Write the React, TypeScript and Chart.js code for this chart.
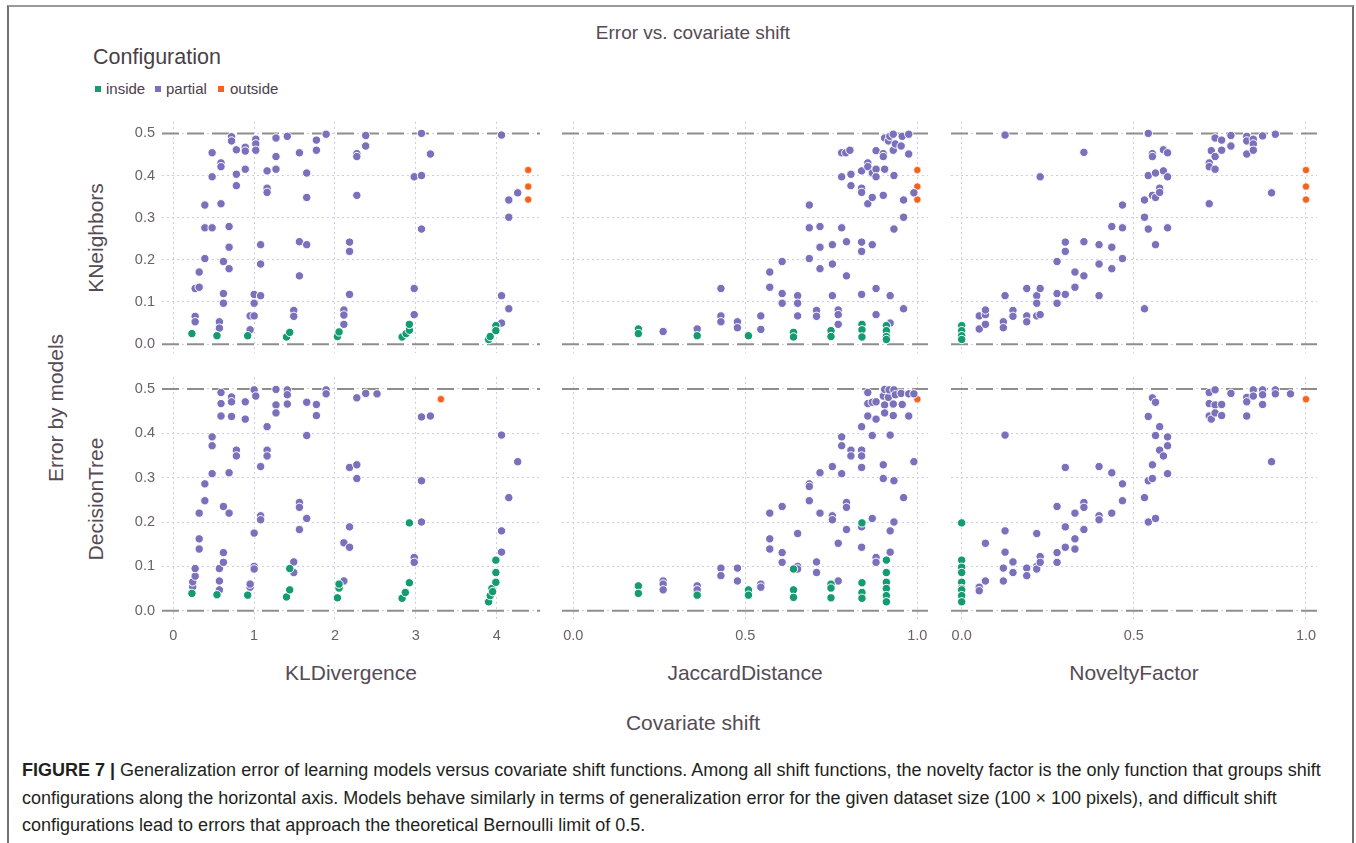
import React, { useEffect, useRef } from "react";
import { Chart, registerables } from "chart.js";

Chart.register(...registerables);

type Pt = [number, number];

// ---------------- data ----------------
const configurations = ["inside", "partial", "outside"];
const models = ["KNeighbors", "DecisionTree"];
const shiftFunctions = ["KLDivergence", "JaccardDistance", "NoveltyFactor"];
const errorTicks = [0, 0.1, 0.2, 0.3, 0.4, 0.5];
const klTicks = [0, 1, 2, 3, 4];
const unitTicks = [0, 0.5, 1];
const referenceErrors = [0, 0.5];

// KNeighbors vs KLDivergence
const knnKlInside: Pt[] = [
  [0.23, 0.025], [0.54, 0.02], [0.92, 0.02], [1.4, 0.017], [1.44, 0.028], [2.03, 0.018], [2.05, 0.029],
  [2.83, 0.017], [2.88, 0.025], [2.92, 0.033], [2.92, 0.047], [3.9, 0.011], [3.92, 0.018], [3.99, 0.044], [3.99, 0.032],
];
const knnKlPartial: Pt[] = [
  [0.27, 0.132], [0.27, 0.066], [0.27, 0.053], [0.32, 0.171], [0.32, 0.135], [0.39, 0.33], [0.39, 0.276], [0.39, 0.203],
  [0.48, 0.454], [0.48, 0.397], [0.48, 0.276], [0.57, 0.053], [0.57, 0.038], [0.59, 0.43], [0.59, 0.421], [0.59, 0.333],
  [0.62, 0.196], [0.62, 0.12], [0.62, 0.097], [0.69, 0.279], [0.69, 0.23], [0.69, 0.179], [0.72, 0.492], [0.72, 0.482],
  [0.78, 0.461], [0.78, 0.403], [0.78, 0.376], [0.89, 0.467], [0.89, 0.458], [0.89, 0.415], [0.95, 0.067], [0.95, 0.034],
  [1.02, 0.486], [1.02, 0.475], [1.02, 0.46], [1.0, 0.118], [1.0, 0.097], [1.0, 0.067], [1.08, 0.236], [1.08, 0.19],
  [1.08, 0.115], [1.16, 0.411], [1.16, 0.37], [1.16, 0.36], [1.27, 0.489], [1.27, 0.445], [1.27, 0.415], [1.41, 0.493],
  [1.49, 0.08], [1.49, 0.066], [1.56, 0.454], [1.56, 0.243], [1.56, 0.162], [1.65, 0.406], [1.65, 0.348], [1.65, 0.236],
  [1.77, 0.484], [1.77, 0.46], [1.89, 0.498], [2.11, 0.081], [2.11, 0.069], [2.11, 0.047], [2.18, 0.242], [2.18, 0.22],
  [2.18, 0.118], [2.27, 0.452], [2.27, 0.445], [2.27, 0.353], [2.38, 0.495], [2.38, 0.47], [2.98, 0.397], [2.98, 0.132],
  [2.98, 0.07], [3.07, 0.5], [3.07, 0.4], [3.07, 0.273], [3.18, 0.451], [4.06, 0.496], [4.06, 0.115], [4.06, 0.05],
  [4.15, 0.342], [4.15, 0.301], [4.15, 0.084], [4.26, 0.359],
];
const knnKlOutside: Pt[] = [[4.39, 0.413], [4.39, 0.374], [4.39, 0.343]];

// KNeighbors vs JaccardDistance
const knnJacInside: Pt[] = [
  [0.189, 0.036], [0.189, 0.025], [0.36, 0.02], [0.509, 0.02], [0.64, 0.028], [0.64, 0.017], [0.749, 0.032], [0.749, 0.018],
  [0.839, 0.047], [0.839, 0.034], [0.839, 0.017], [0.91, 0.044], [0.91, 0.032], [0.91, 0.018], [0.91, 0.011],
];
const knnJacPartial: Pt[] = [
  [0.261, 0.03], [0.36, 0.036], [0.429, 0.132], [0.429, 0.067], [0.429, 0.053], [0.477, 0.053], [0.477, 0.039],
  [0.545, 0.067], [0.545, 0.035], [0.571, 0.171], [0.571, 0.135], [0.607, 0.196], [0.607, 0.12], [0.607, 0.097],
  [0.652, 0.115], [0.652, 0.097], [0.652, 0.067], [0.686, 0.33], [0.686, 0.276], [0.686, 0.203], [0.717, 0.279],
  [0.717, 0.23], [0.717, 0.179], [0.707, 0.08], [0.707, 0.066], [0.753, 0.236], [0.753, 0.19], [0.753, 0.115],
  [0.77, 0.081], [0.77, 0.07], [0.77, 0.047], [0.78, 0.454], [0.792, 0.454], [0.804, 0.46], [0.78, 0.397], [0.78, 0.276],
  [0.794, 0.243], [0.794, 0.162], [0.807, 0.403], [0.807, 0.376], [0.838, 0.411], [0.838, 0.37], [0.838, 0.36],
  [0.838, 0.242], [0.838, 0.22], [0.838, 0.118], [0.856, 0.43], [0.856, 0.421], [0.856, 0.333], [0.869, 0.406],
  [0.869, 0.348], [0.869, 0.236], [0.88, 0.459], [0.88, 0.415], [0.88, 0.397], [0.88, 0.132], [0.88, 0.07],
  [0.901, 0.452], [0.901, 0.445], [0.901, 0.353], [0.905, 0.489], [0.905, 0.415], [0.916, 0.482], [0.92, 0.493],
  [0.93, 0.498], [0.93, 0.46], [0.932, 0.4], [0.932, 0.273], [0.936, 0.475], [0.921, 0.115], [0.921, 0.05],
  [0.956, 0.493], [0.953, 0.47], [0.975, 0.498], [0.975, 0.451], [0.96, 0.342], [0.96, 0.301], [0.96, 0.084], [0.99, 0.359],
];
const knnJacOutside: Pt[] = [[1, 0.413], [1, 0.374], [1, 0.343]];

// KNeighbors vs NoveltyFactor
const knnNovInside: Pt[] = [[0, 0.044], [0, 0.032], [0, 0.02], [0, 0.011]];
const knnNovPartial: Pt[] = [
  [0.051, 0.036], [0.051, 0.067], [0.069, 0.047], [0.069, 0.07], [0.069, 0.081], [0.126, 0.496], [0.126, 0.115],
  [0.121, 0.053], [0.121, 0.039], [0.149, 0.08], [0.149, 0.066], [0.189, 0.132], [0.189, 0.067], [0.189, 0.053],
  [0.218, 0.115], [0.218, 0.097], [0.218, 0.067], [0.228, 0.397], [0.228, 0.132], [0.228, 0.07], [0.277, 0.196],
  [0.277, 0.12], [0.277, 0.097], [0.301, 0.242], [0.301, 0.22], [0.301, 0.118], [0.329, 0.171], [0.329, 0.135],
  [0.355, 0.455], [0.355, 0.243], [0.355, 0.162], [0.399, 0.236], [0.399, 0.19], [0.399, 0.115], [0.436, 0.279],
  [0.436, 0.23], [0.436, 0.179], [0.467, 0.33], [0.467, 0.276], [0.467, 0.203], [0.531, 0.342], [0.531, 0.301],
  [0.531, 0.084], [0.542, 0.5], [0.542, 0.4], [0.542, 0.273], [0.554, 0.452], [0.554, 0.445], [0.554, 0.353],
  [0.563, 0.406], [0.563, 0.348], [0.563, 0.236], [0.575, 0.37], [0.575, 0.36], [0.586, 0.411], [0.586, 0.461],
  [0.598, 0.454], [0.598, 0.397], [0.598, 0.276], [0.719, 0.43], [0.719, 0.421], [0.719, 0.333], [0.725, 0.459],
  [0.736, 0.489], [0.736, 0.445], [0.736, 0.415], [0.755, 0.484], [0.755, 0.46], [0.782, 0.495], [0.782, 0.47],
  [0.828, 0.493], [0.828, 0.482], [0.828, 0.451], [0.847, 0.486], [0.847, 0.475], [0.847, 0.46], [0.874, 0.494],
  [0.9, 0.359], [0.911, 0.498],
];
const knnNovOutside: Pt[] = [[1, 0.413], [1, 0.374], [1, 0.343]];

// DecisionTree vs KLDivergence
const dtKlInside: Pt[] = [
  [0.23, 0.039], [0.54, 0.036], [0.92, 0.035], [1.4, 0.031], [1.44, 0.047], [1.44, 0.095], [2.03, 0.029], [2.05, 0.051],
  [2.05, 0.06], [2.83, 0.028], [2.87, 0.041], [2.92, 0.063], [2.92, 0.198], [3.9, 0.02], [3.92, 0.034], [3.94, 0.05],
  [3.95, 0.043], [3.99, 0.064], [3.99, 0.086], [3.99, 0.114],
];
const dtKlPartial: Pt[] = [
  [0.24, 0.054], [0.24, 0.065], [0.27, 0.078], [0.27, 0.095], [0.32, 0.139], [0.32, 0.162], [0.32, 0.22], [0.39, 0.286],
  [0.39, 0.248], [0.48, 0.309], [0.48, 0.372], [0.48, 0.392], [0.57, 0.067], [0.57, 0.095], [0.57, 0.047], [0.59, 0.492],
  [0.59, 0.467], [0.59, 0.439], [0.62, 0.235], [0.62, 0.131], [0.62, 0.109], [0.69, 0.311], [0.69, 0.22], [0.72, 0.482],
  [0.72, 0.471], [0.72, 0.438], [0.78, 0.362], [0.78, 0.349], [0.89, 0.471], [0.89, 0.432], [0.95, 0.053], [0.95, 0.06],
  [1.0, 0.498], [1.02, 0.484], [1.0, 0.1], [1.0, 0.094], [1.0, 0.175], [1.08, 0.325], [1.08, 0.214], [1.08, 0.205],
  [1.16, 0.415], [1.16, 0.362], [1.16, 0.349], [1.27, 0.499], [1.27, 0.464], [1.27, 0.446], [1.41, 0.498], [1.41, 0.487],
  [1.41, 0.466], [1.49, 0.11], [1.49, 0.086], [1.56, 0.244], [1.56, 0.233], [1.56, 0.183], [1.65, 0.47], [1.65, 0.395],
  [1.65, 0.208], [1.77, 0.465], [1.77, 0.44], [1.89, 0.498], [1.89, 0.489], [2.11, 0.153], [2.11, 0.067], [2.18, 0.323],
  [2.18, 0.189], [2.18, 0.143], [2.27, 0.48], [2.27, 0.329], [2.27, 0.298], [2.38, 0.49], [2.52, 0.489], [2.98, 0.12],
  [2.98, 0.109], [3.07, 0.437], [3.07, 0.293], [3.07, 0.2], [3.18, 0.439], [4.06, 0.396], [4.06, 0.18], [4.06, 0.132],
  [4.15, 0.255], [4.26, 0.336],
];
const dtKlOutside: Pt[] = [[3.31, 0.477]];

// DecisionTree vs JaccardDistance
const dtJacInside: Pt[] = [
  [0.189, 0.056], [0.189, 0.039], [0.36, 0.035], [0.509, 0.047], [0.509, 0.035], [0.64, 0.094], [0.64, 0.047], [0.64, 0.03],
  [0.749, 0.06], [0.749, 0.051], [0.749, 0.029], [0.839, 0.198], [0.839, 0.063], [0.839, 0.041], [0.839, 0.028],
  [0.91, 0.114], [0.91, 0.086], [0.91, 0.064], [0.91, 0.05], [0.91, 0.034], [0.91, 0.02],
];
const dtJacPartial: Pt[] = [
  [0.261, 0.067], [0.261, 0.06], [0.261, 0.047], [0.36, 0.056], [0.36, 0.047], [0.429, 0.096], [0.429, 0.079],
  [0.477, 0.096], [0.477, 0.067], [0.545, 0.06], [0.545, 0.053], [0.571, 0.22], [0.571, 0.162], [0.571, 0.139],
  [0.607, 0.235], [0.607, 0.131], [0.607, 0.109], [0.652, 0.174], [0.652, 0.1], [0.652, 0.094], [0.686, 0.286],
  [0.686, 0.28], [0.686, 0.248], [0.717, 0.311], [0.717, 0.22], [0.707, 0.11], [0.707, 0.086], [0.753, 0.325],
  [0.753, 0.214], [0.753, 0.205], [0.77, 0.152], [0.77, 0.067], [0.78, 0.392], [0.78, 0.372], [0.78, 0.309],
  [0.794, 0.244], [0.794, 0.233], [0.794, 0.183], [0.807, 0.362], [0.807, 0.349], [0.838, 0.415], [0.838, 0.362],
  [0.838, 0.349], [0.838, 0.323], [0.838, 0.189], [0.838, 0.143], [0.856, 0.492], [0.856, 0.467], [0.856, 0.439],
  [0.869, 0.47], [0.869, 0.395], [0.869, 0.208], [0.88, 0.471], [0.88, 0.432], [0.88, 0.12], [0.88, 0.109],
  [0.901, 0.484], [0.901, 0.329], [0.901, 0.298], [0.905, 0.499], [0.905, 0.464], [0.905, 0.446], [0.916, 0.481],
  [0.918, 0.498], [0.932, 0.498], [0.93, 0.466], [0.93, 0.44], [0.932, 0.293], [0.932, 0.2], [0.936, 0.487],
  [0.921, 0.396], [0.921, 0.18], [0.921, 0.132], [0.953, 0.49], [0.956, 0.465], [0.975, 0.489], [0.975, 0.439],
  [0.96, 0.255], [0.99, 0.336], [0.99, 0.489],
];
const dtJacOutside: Pt[] = [[1, 0.477]];

// DecisionTree vs NoveltyFactor
const dtNovInside: Pt[] = [[0, 0.198], [0, 0.114], [0, 0.098], [0, 0.086], [0, 0.064], [0, 0.05], [0, 0.047], [0, 0.034], [0, 0.02]];
const dtNovPartial: Pt[] = [
  [0.051, 0.053], [0.051, 0.045], [0.069, 0.067], [0.069, 0.152], [0.126, 0.396], [0.126, 0.18], [0.126, 0.132],
  [0.121, 0.096], [0.121, 0.067], [0.149, 0.11], [0.149, 0.086], [0.189, 0.096], [0.189, 0.079], [0.218, 0.174],
  [0.218, 0.1], [0.218, 0.094], [0.228, 0.122], [0.228, 0.109], [0.277, 0.235], [0.277, 0.131], [0.277, 0.109],
  [0.301, 0.323], [0.301, 0.189], [0.301, 0.143], [0.329, 0.22], [0.329, 0.162], [0.329, 0.139], [0.355, 0.244],
  [0.355, 0.233], [0.355, 0.183], [0.399, 0.325], [0.399, 0.214], [0.399, 0.205], [0.436, 0.311], [0.436, 0.22],
  [0.467, 0.286], [0.467, 0.248], [0.531, 0.255], [0.542, 0.438], [0.542, 0.293], [0.542, 0.2], [0.554, 0.48],
  [0.554, 0.329], [0.554, 0.298], [0.563, 0.47], [0.563, 0.395], [0.563, 0.208], [0.575, 0.415], [0.575, 0.362],
  [0.586, 0.349], [0.598, 0.392], [0.598, 0.372], [0.598, 0.309], [0.719, 0.492], [0.719, 0.467], [0.719, 0.439],
  [0.725, 0.432], [0.736, 0.498], [0.736, 0.464], [0.736, 0.446], [0.755, 0.465], [0.755, 0.44], [0.782, 0.49],
  [0.828, 0.481], [0.828, 0.471], [0.828, 0.439], [0.847, 0.498], [0.847, 0.484], [0.874, 0.498], [0.874, 0.487],
  [0.874, 0.465], [0.9, 0.336], [0.911, 0.498], [0.911, 0.489], [0.955, 0.489],
];
const dtNovOutside: Pt[] = [[1, 0.477]];

// table for the panels: [row][col] -> [inside, partial, outside]
const panelSeries: Pt[][][][] = [
  [
    [knnKlInside, knnKlPartial, knnKlOutside],
    [knnJacInside, knnJacPartial, knnJacOutside],
    [knnNovInside, knnNovPartial, knnNovOutside],
  ],
  [
    [dtKlInside, dtKlPartial, dtKlOutside],
    [dtJacInside, dtJacPartial, dtJacOutside],
    [dtNovInside, dtNovPartial, dtNovOutside],
  ],
];
const columnTicks = [klTicks, unitTicks, unitTicks];

// ---------------- styles / layout ----------------
const FONT = "'Liberation Sans', Arial, Helvetica, sans-serif";
const COLORS: Record<string, string> = { inside: "#149b72", partial: "#7a70bb", outside: "#f4621c" };
const GRID = "#cfcde3";
const TICK = "#6c606b";
const LABEL = "#564a55";
const COLS = [
  { l: 162, r: 540, min: -0.14, max: 4.536 },
  { l: 562, r: 928, min: -0.033, max: 1.031 },
  { l: 951, r: 1317, min: -0.031, max: 1.032 },
];
const ROWS = [{ t: 122, b: 353 }, { t: 377, b: 620 }];
const Y_MIN = -0.021;
const Y_MAX = 0.527;
const YW = 50;
const XH = 30;

Chart.defaults.font.family = FONT;

function Panel({ row, col }: { row: number; col: number }) {
  const ref = useRef<HTMLCanvasElement | null>(null);
  const c = COLS[col];
  const r = ROWS[row];
  const showY = col === 0;
  const showX = row === 1;
  const left = c.l - (showY ? YW : 0);
  const width = c.r - c.l + (showY ? YW : 0);
  const height = r.b - r.t + (showX ? XH : 0);

  useEffect(() => {
    if (!ref.current) return;
    const series = panelSeries[row][col];
    const xTicks = columnTicks[col];
    const pointSets = [0, 1, 2].map((k) => ({
      type: "scatter" as const,
      label: configurations[k],
      data: series[k].map(([x, y]) => ({ x, y })),
      backgroundColor: COLORS[configurations[k]],
      borderColor: "#ffffff",
      borderWidth: 1,
      pointRadius: k === 2 ? 3.6 : 4.2,
      pointBorderWidth: k === 2 ? 0.6 : 1,
      clip: 12,
    }));
    const lineSets = referenceErrors.map((v) => ({
      type: "line" as const,
      label: "ref" + v,
      data: [{ x: c.min, y: v }, { x: c.max, y: v }],
      borderColor: "#8e8e8e",
      borderWidth: 2,
      borderDash: [17, 8],
      pointRadius: 0,
      showLine: true,
      fill: false,
      clip: 2,
    }));
    const zeroPad = (s: any) => {
      s.paddingLeft = 0;
      s.paddingRight = 0;
      s.paddingTop = 0;
      s.paddingBottom = 0;
    };
    const chart = new Chart(ref.current, {
      type: "scatter",
      data: { datasets: [pointSets[0], pointSets[1], pointSets[2], ...lineSets] as any },
      options: {
        animation: false,
        responsive: false,
        devicePixelRatio: 1,
        events: [],
        layout: { padding: 0, autoPadding: false },
        plugins: { legend: { display: false }, tooltip: { enabled: false } },
        scales: {
          x: {
            type: "linear",
            min: c.min,
            max: c.max,
            afterBuildTicks: (s: any) => {
              s.ticks = xTicks.map((v) => ({ value: v }));
            },
            afterFit: (s: any) => {
              s.height = showX ? XH : 0;
              zeroPad(s);
            },
            grid: { color: GRID, lineWidth: 1, drawTicks: false },
            border: { display: false, dash: [2, 3] },
            ticks: {
              display: showX,
              padding: 7,
              color: TICK,
              maxRotation: 0,
              autoSkip: false,
              font: { family: FONT, size: 14.5 },
              callback: (v: any) => (col === 0 ? String(v) : Number(v).toFixed(1)),
            },
          },
          y: {
            type: "linear",
            min: Y_MIN,
            max: Y_MAX,
            afterBuildTicks: (s: any) => {
              s.ticks = errorTicks.map((v) => ({ value: v }));
            },
            afterFit: (s: any) => {
              s.width = showY ? YW : 0;
              zeroPad(s);
            },
            grid: { color: GRID, lineWidth: 1, drawTicks: false },
            border: { display: false, dash: [2, 3] },
            ticks: {
              display: showY,
              padding: 7,
              color: TICK,
              autoSkip: false,
              font: { family: FONT, size: 14.5 },
              callback: (v: any) => Number(v).toFixed(1),
            },
          },
        },
      },
    });
    return () => chart.destroy();
  }, [row, col]);

  return (
    <canvas
      ref={ref}
      width={width}
      height={height}
      style={{ position: "absolute", left, top: r.t, width, height }}
    />
  );
}

const centered = (x: number, y: number, extra: React.CSSProperties = {}): React.CSSProperties => ({
  position: "absolute",
  left: x,
  top: y,
  transform: "translate(-50%, -50%)",
  whiteSpace: "nowrap",
  fontFamily: FONT,
  color: LABEL,
  lineHeight: 1,
  ...extra,
});

export default function App() {
  const legendPos = [
    { sq: 95, tx: 106 },
    { sq: 155, tx: 166 },
    { sq: 218, tx: 230 },
  ];
  const captionLines = [
    "Generalization error of learning models versus covariate shift functions. Among all shift functions, the novelty factor is the only function that groups shift",
    "configurations along the horizontal axis. Models behave similarly in terms of generalization error for the given dataset size (100 × 100 pixels), and difficult shift",
    "configurations lead to errors that approach the theoretical Bernoulli limit of 0.5.",
  ];
  return (
    <div
      style={{
        position: "fixed",
        left: 0,
        top: 0,
        width: 1356,
        height: 843,
        background: "#ffffff",
        overflow: "hidden",
        fontFamily: FONT,
      }}
    >
      <div
        style={{
          position: "absolute",
          left: 7,
          top: 5,
          width: 1347,
          height: 860,
          boxSizing: "border-box",
          borderTop: "2px solid #9a9a9a",
          borderLeft: "2px solid #707070",
          borderRight: "2px solid #707070",
        }}
      />
      <div style={centered(693, 32, { fontSize: 19 })}>Error vs. covariate shift</div>
      <div style={{ position: "absolute", left: 93, top: 47, fontSize: 21.5, color: "#4a3f48", lineHeight: 1, whiteSpace: "nowrap" }}>
        Configuration
      </div>
      {configurations.map((name, i) => (
        <React.Fragment key={name}>
          <div
            style={{
              position: "absolute",
              left: legendPos[i].sq,
              top: 86,
              width: 6,
              height: 6,
              background: COLORS[name],
            }}
          />
          <div
            style={{
              position: "absolute",
              left: legendPos[i].tx,
              top: 81,
              fontSize: 15,
              lineHeight: 1,
              color: "#4c404b",
              whiteSpace: "nowrap",
            }}
          >
            {name}
          </div>
        </React.Fragment>
      ))}
      <div style={centered(55, 408, { fontSize: 21, transform: "translate(-50%, -50%) rotate(-90deg)" })}>Error by models</div>
      {models.map((m, i) => (
        <div
          key={m}
          style={centered(95, (ROWS[i].t + ROWS[i].b) / 2, {
            fontSize: 21,
            transform: "translate(-50%, -50%) rotate(-90deg)",
          })}
        >
          {m}
        </div>
      ))}
      {[0, 1].map((row) => [0, 1, 2].map((col) => <Panel key={row + "-" + col} row={row} col={col} />))}
      {shiftFunctions.map((f, i) => (
        <div key={f} style={centered((COLS[i].l + COLS[i].r) / 2, 672, { fontSize: 21 })}>
          {f}
        </div>
      ))}
      <div style={centered(693, 722, { fontSize: 21 })}>Covariate shift</div>
      {captionLines.map((line, i) => (
        <div
          key={i}
          style={{
            position: "absolute",
            left: 22,
            top: 760 + i * 27.5,
            fontSize: 18,
            lineHeight: 1.15,
            color: "#231f20",
            whiteSpace: "nowrap",
            fontFamily: FONT,
          }}
        >
          {i === 0 ? <b>FIGURE 7 | </b> : null}
          {line}
        </div>
      ))}
    </div>
  );
}
